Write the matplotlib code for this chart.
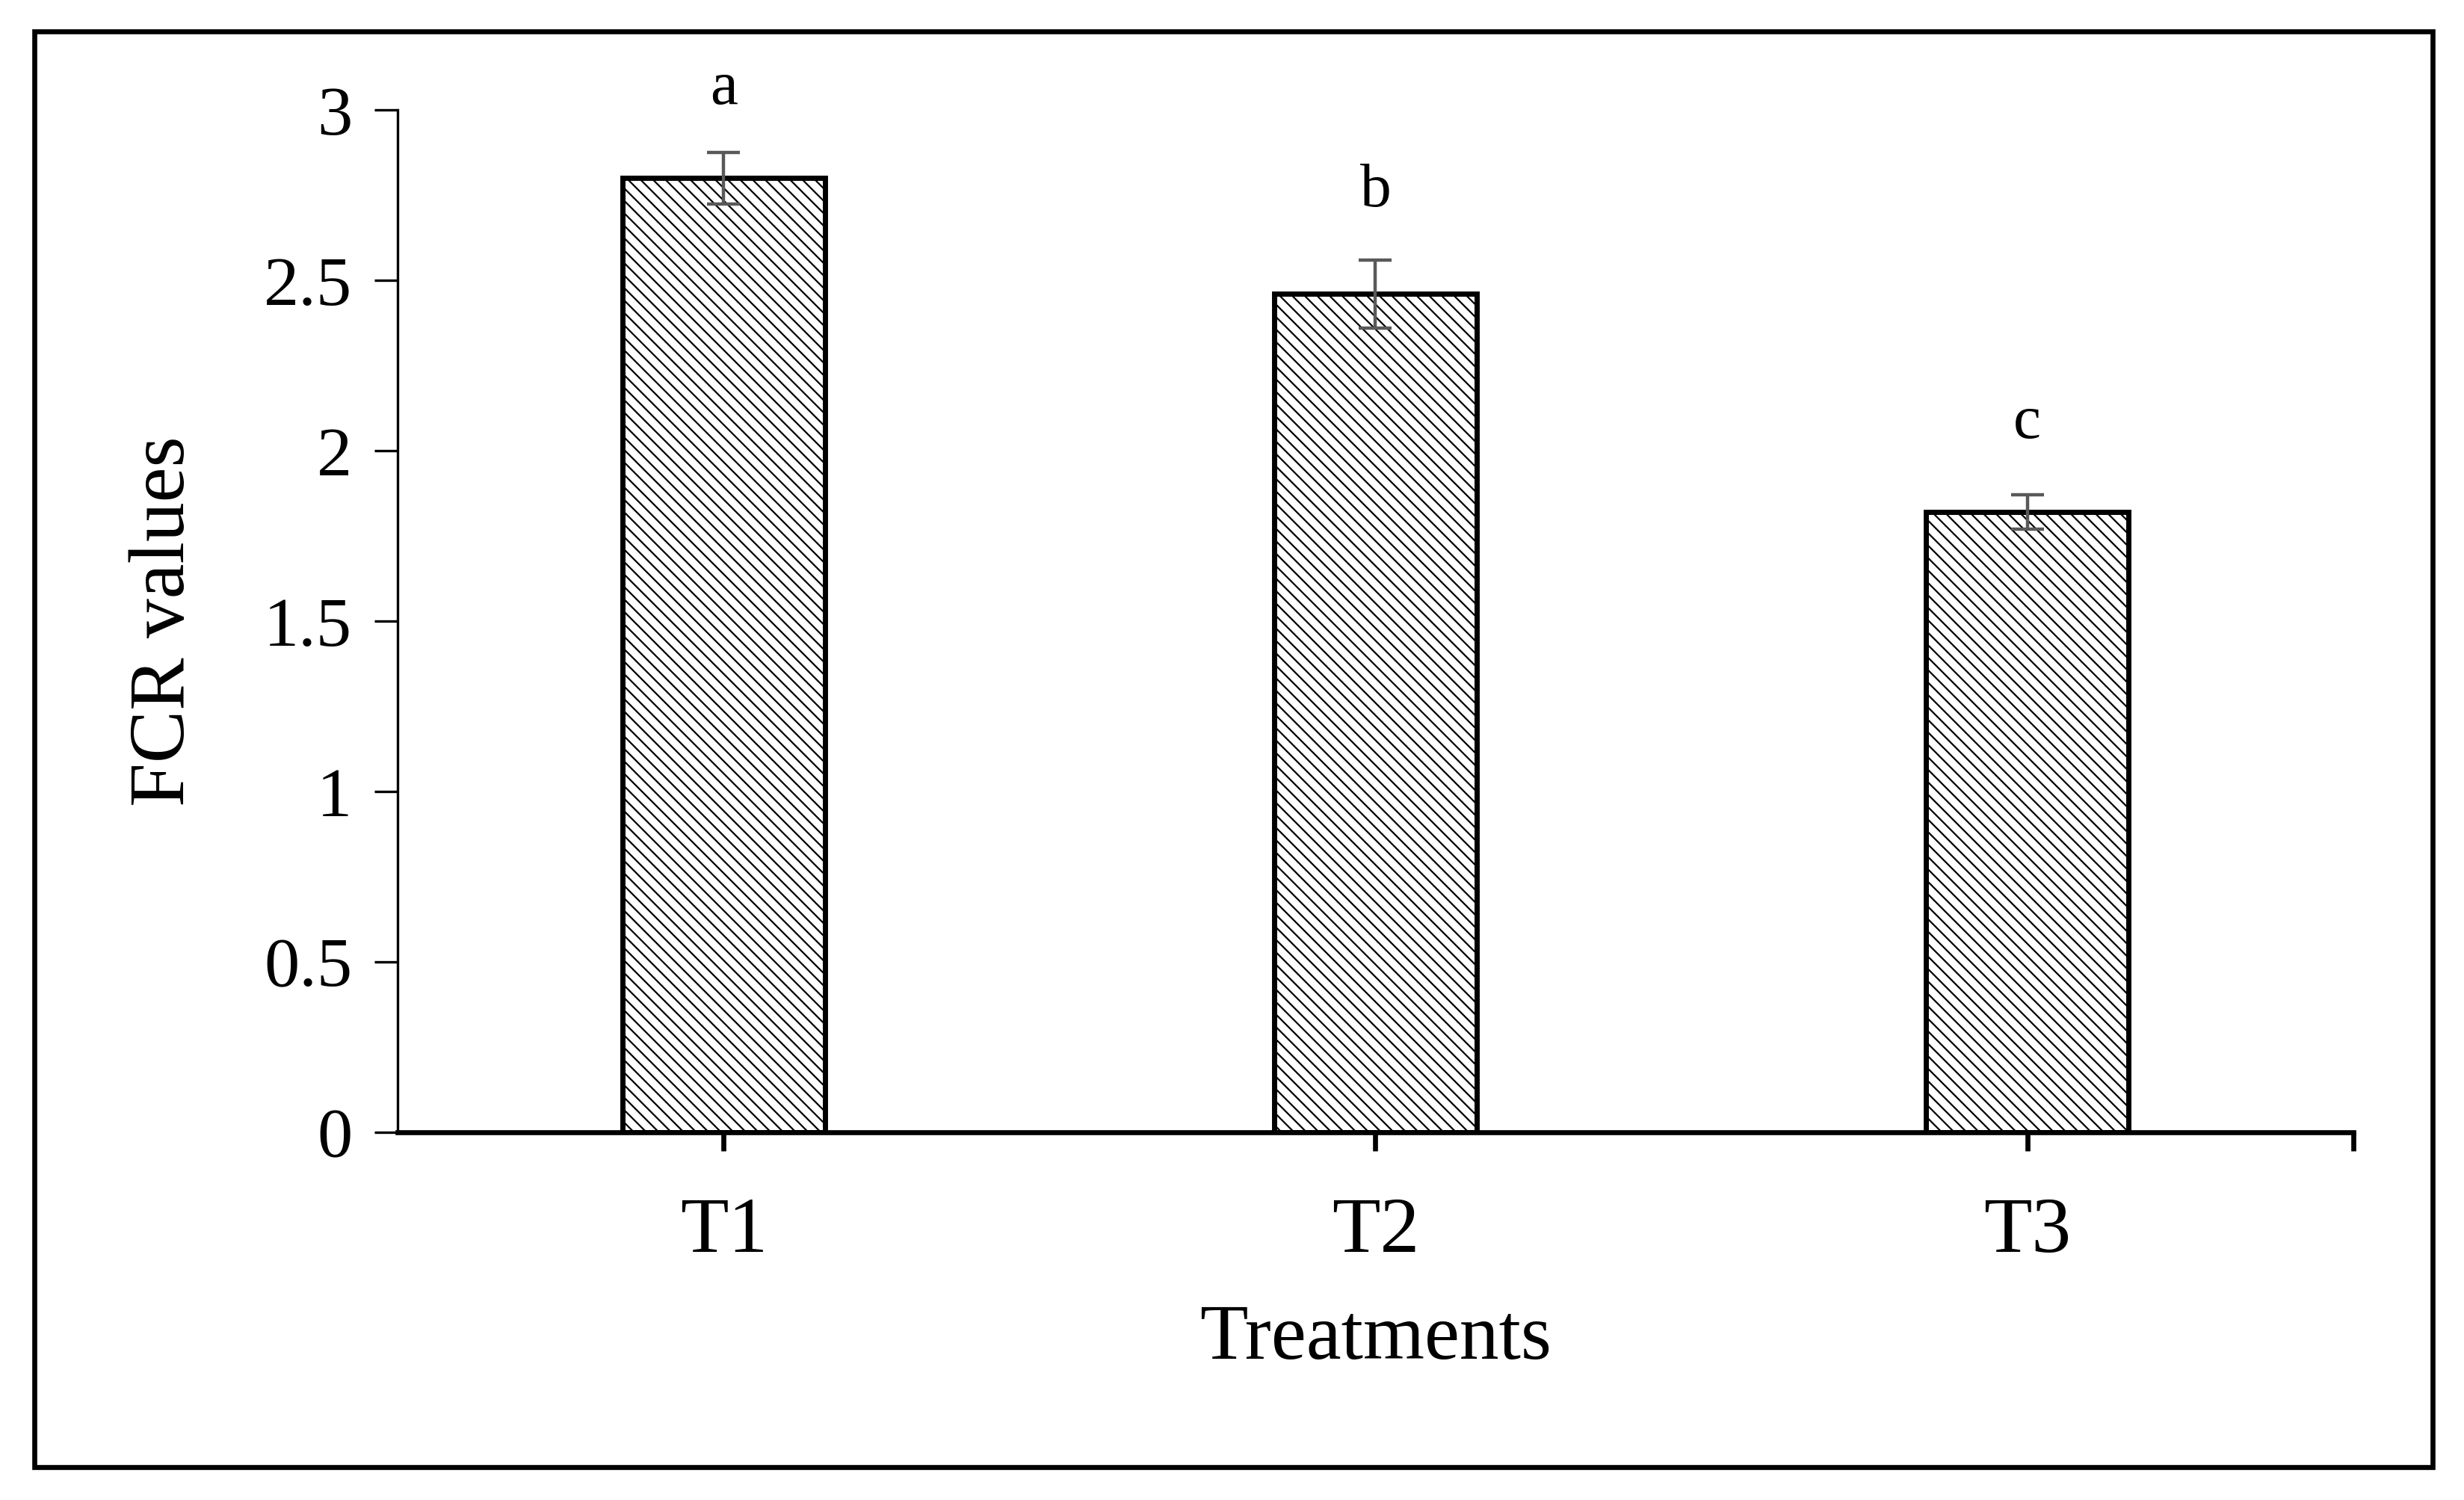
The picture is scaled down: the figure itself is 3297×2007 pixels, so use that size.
import numpy as np
import matplotlib
matplotlib.use("Agg")
import matplotlib.pyplot as plt
from matplotlib.patches import Rectangle

# values
treatments = ["T1", "T2", "T3"]
fcr_means = [2.80, 2.46, 1.82]
fcr_errors = [0.075, 0.10, 0.05]
sig_letters = ["a", "b", "c"]
letter_heights = [3.06, 2.76, 2.08]

plt.rcParams['font.family'] = ['Liberation Serif', 'DejaVu Serif']
plt.rcParams['hatch.linewidth'] = 0.8
plt.rcParams['hatch.color'] = 'black'

fig = plt.figure(figsize=(16.49, 10.035), dpi=200)
ax = fig.add_axes([0.1614, 0.245, 0.7933, 0.6817])

x = np.arange(len(treatments))
ax.bar(x, fcr_means, width=0.31, color='white', edgecolor='black',
       linewidth=2.5, hatch='\\\\\\\\', zorder=2)
ax.errorbar(x, fcr_means, yerr=fcr_errors, fmt='none', ecolor='#595959',
            elinewidth=1.6, capsize=8, capthick=1.6, zorder=3)

for xi, lab, h in zip(x, sig_letters, letter_heights):
    ax.text(xi, h, lab, ha='center', va='center', fontsize=30)

ax.set_xlim(-0.5, 2.5)
ax.set_ylim(0, 3)
ax.set_yticks([0, 0.5, 1, 1.5, 2, 2.5, 3])
ax.set_yticklabels(['0', '0.5', '1', '1.5', '2', '2.5', '3'])
ax.set_xticks([0, 1, 2, 2.5])
ax.set_xticklabels(treatments + [''])

ax.spines['top'].set_visible(False)
ax.spines['right'].set_visible(False)
ax.spines['left'].set_linewidth(1.2)
ax.spines['bottom'].set_linewidth(2.4)
ax.tick_params(axis='y', direction='out', length=11, width=1.2, pad=11, labelsize=34)
ax.tick_params(axis='x', direction='out', length=9, width=2.4, pad=22, labelsize=38)

ax.set_xlabel('Treatments', fontsize=38)
ax.xaxis.set_label_coords(0.5, -0.203)
ax.xaxis.label.set_va('center')
ax.set_ylabel('FCR values', fontsize=38)
ax.yaxis.set_label_coords(-0.119, 0.5)
ax.yaxis.label.set_va('center')

# outer frame around the whole chart
fig.patches.append(Rectangle((0.014, 0.022), 0.973, 0.957, transform=fig.transFigure,
                             fill=False, edgecolor='black', linewidth=2.4))

fig.savefig('out.png', dpi=200)
